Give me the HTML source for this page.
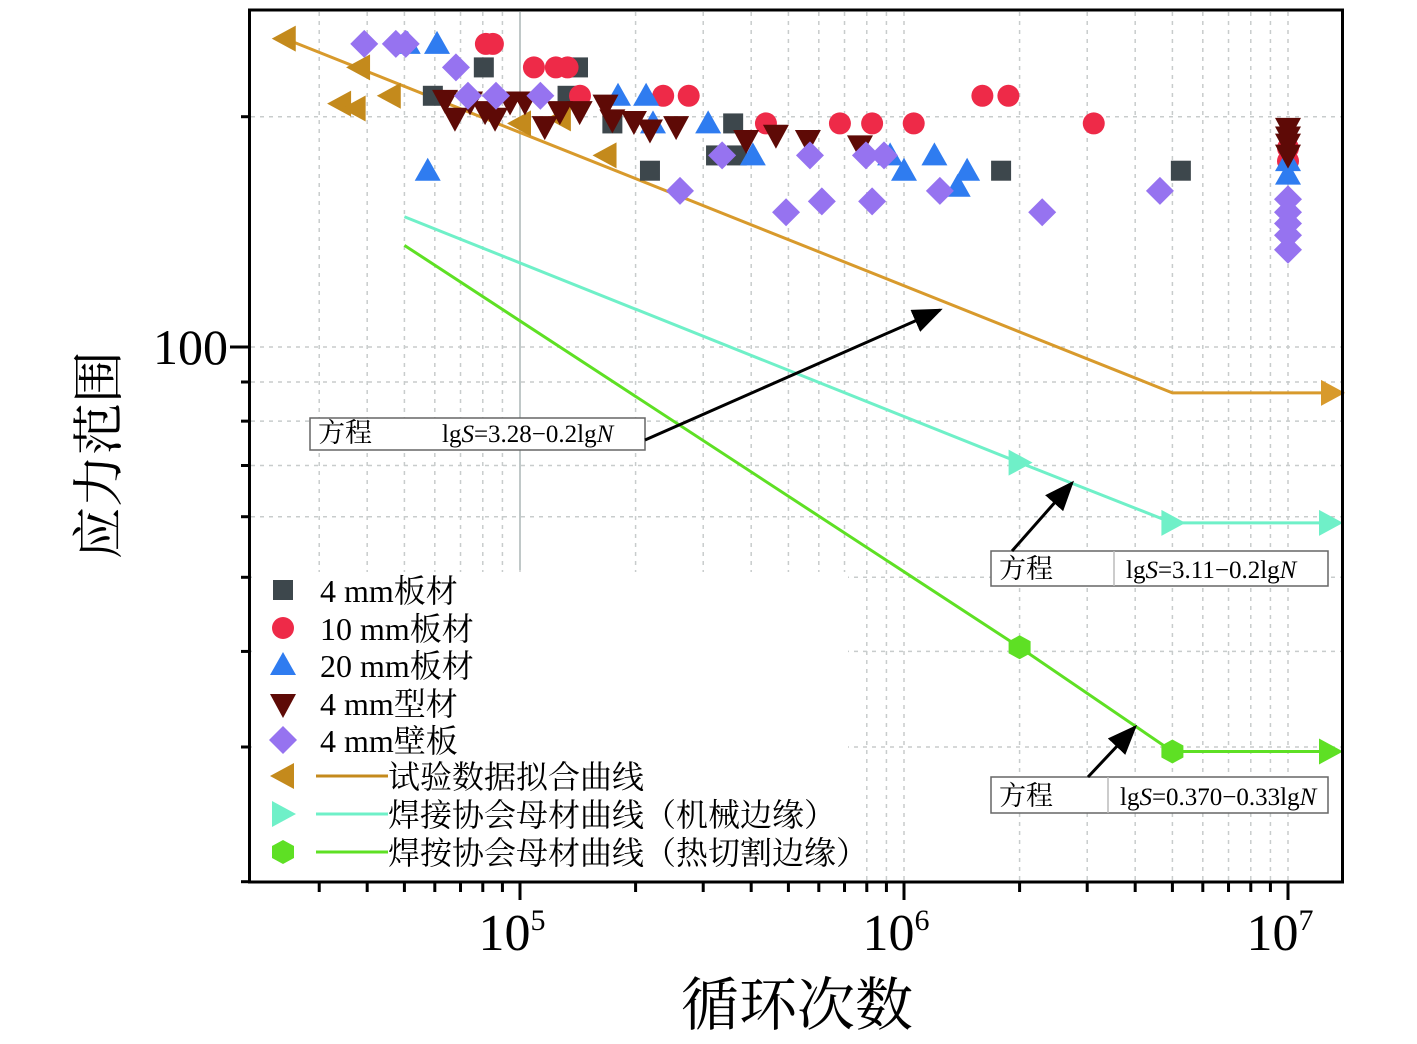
<!DOCTYPE html>
<html><head><meta charset="utf-8"><style>
html,body{margin:0;padding:0;background:#fff;}
svg text{font-family:"Liberation Serif","Noto Serif CJK SC","Noto Sans CJK SC",serif;}
</style></head><body>
<svg id="chart" width="1417" height="1039" xmlns="http://www.w3.org/2000/svg">
<g id="grid"></g>
<g id="lines"></g>
<g id="pts"></g>
<g id="axes"></g>
<g id="ann"></g>
<g id="leg"></g>
</svg>
<script>
const xTicks=[1e5,1e6,1e7];
const yTicks=[20,30,40,50,60,70,80,90,100,200];
const sqN=[80500,59300,133000,141600,174000,359000,324000,367000,218000,1790000,5260000];
const sqS=[232,213,213,232,196,196,178,178,170,170,170];
const ciN=[81500,85000,108700,124000,133000,143300,236000,275000,437000,681000,826000,1060000,1600000,1870000,3120000,1e7,1e7];
const ciS=[249,249,232,232,232,213,213,213,196,196,196,196,213,213,196,175,182];
const trN=[51000,60800,57500,180000,213000,222000,309000,404000,920000,1000000,1200000,1380000,1460000,1e7,1e7];
const trS=[249,249,170,213,213,196,196,178,178,170,178,162,170,175,168];
const dtN=[63800,67700,74100,81100,86100,94200,103000,116000,127000,143000,167000,174000,198000,218000,255000,388000,464000,562000,768000,1e7,1e7,1e7,1e7];
const dtS=[211,200,210,204,200,210,210,195,204,204,208,199,198,193,195,187,190,187,184,194,189,185,179];
const diN=[39300,47500,50400,68100,73200,86600,113000,261000,336000,493000,569000,611000,796000,826000,887000,1240000,2290000,4640000,1e7,1e7,1e7,1e7,1e7];
const diS=[249,249,249,232,213,213,213,160,178,150,178,155,178,155,178,160,150,160,156,150,145,140,134];
const ltN=[24400,38100,34000,37100,45800,100000,127000,167000];
const ltS=[253,232,208,205,213,196,199,178];
const fitN=[24400,5e6,1.4e7];
const fitS=[253,87.1,87.1];
const mechN=[5e4,2e6,5e6,1.35e7];
const mechS=[148,70.6,58.9,58.9];
const heatN=[5e4,2e6,5e6,1.35e7];
const heatS=[135.8,40.5,29.6,29.6];

const X=n=>520+384*(Math.log10(n)-5);
const Y=s=>347-765*(Math.log10(s)-2);
const NS="http://www.w3.org/2000/svg";
function mk(p,t,a){const e=document.createElementNS(NS,t);for(const k in a)e.setAttribute(k,a[k]);p.appendChild(e);return e;}
const G=id=>document.getElementById(id);
const grid=G('grid');
const minors=[];for(let d=4;d<=7;d++)for(let m=1;m<10;m++){const v=m*Math.pow(10,d);if(X(v)>252&&X(v)<1340)minors.push(v);}
minors.forEach(v=>{const l=mk(grid,'line',{x1:X(v),x2:X(v),y1:12,y2:880,stroke:'#c8cccc','stroke-width':1.5,'stroke-dasharray':'4,5'});
});
yTicks.forEach(v=>{const l=mk(grid,'line',{x1:251,x2:1341,y1:Y(v),y2:Y(v),stroke:'#c8cccc','stroke-width':1.5,'stroke-dasharray':'4,5'});
});
mk(grid,'line',{x1:520,x2:520,y1:12,y2:570,stroke:'#c0c8c8','stroke-width':2});
mk(grid,'rect',{x:252,y:572,width:596,height:308,fill:'#fff'});
const lines=G('lines');
function poly(N,S,c,name){const p=mk(lines,'polyline',{points:N.map((n,i)=>X(n)+','+Y(S[i])).join(' '),fill:'none',stroke:c,'stroke-width':3});
}
poly(fitN,fitS,'#d89a2c','fit-curve');
poly(mechN,mechS,'#6ff0c8','mechanical-edge-curve');
poly(heatN,heatS,'#5ee024','thermal-cut-curve');
function marker(p,type,x,y,c){let e;
if(type==='sq')e=mk(p,'rect',{x:x-10,y:y-10,width:20,height:20,fill:c});
else if(type==='ci')e=mk(p,'circle',{cx:x,cy:y,r:11,fill:c});
else if(type==='tr')e=mk(p,'polygon',{points:`${x},${y-13} ${x-13},${y+10} ${x+13},${y+10}`,fill:c});
else if(type==='dt')e=mk(p,'polygon',{points:`${x},${y+15} ${x-13},${y-9} ${x+13},${y-9}`,fill:c});
else if(type==='di')e=mk(p,'polygon',{points:`${x},${y-14} ${x+14},${y} ${x},${y+14} ${x-14},${y}`,fill:c});
else if(type==='lt')e=mk(p,'polygon',{points:`${x-13},${y} ${x+11},${y-13} ${x+11},${y+13}`,fill:c});
else if(type==='rt')e=mk(p,'polygon',{points:`${x+13},${y} ${x-11},${y-13} ${x-11},${y+13}`,fill:c});
else if(type==='hx')e=mk(p,'polygon',{points:`${x},${y-12} ${x+11},${y-6} ${x+11},${y+6} ${x},${y+12} ${x-11},${y+6} ${x-11},${y-6}`,fill:c});
return e;}
const pts=G('pts');
function series(N,S,t,c,name){N.forEach((n,i)=>{const e=marker(pts,t,X(n),Y(S[i]),c);
});}
series(ltN,ltS,'lt','#c48a1c','fit-point');
series(sqN,sqS,'sq','#3d474c','plate-4mm-point');
series(ciN,ciS,'ci','#ee2a48','plate-10mm-point');
series(trN,trS,'tr','#2f7cf0','plate-20mm-point');
series(dtN,dtS,'dt','#5e0a06','profile-4mm-point');
series(diN,diS,'di','#9673f0','panel-4mm-point');
[[2e6,70.6],[5e6,58.9]].forEach(a=>{const e=marker(pts,'rt',X(a[0]),Y(a[1]),'#6ff0c8');});
marker(pts,'rt',1330,Y(58.9),'#6ff0c8');
[[2e6,40.5],[5e6,29.6]].forEach(a=>{const e=marker(pts,'hx',X(a[0]),Y(a[1]),'#5ee024');});
marker(pts,'rt',1330,Y(29.6),'#5ee024');
marker(pts,'rt',1332,Y(87.1),'#d89a2c');
const ax=G('axes');
mk(ax,'rect',{x:249.5,y:10,width:1093,height:872,fill:'none',stroke:'#000','stroke-width':3});
yTicks.forEach(v=>{const big=v===100;mk(ax,'line',{x1:big?230:241,x2:249,y1:Y(v),y2:Y(v),stroke:'#000','stroke-width':3});});
minors.forEach(v=>{const big=xTicks.includes(v);mk(ax,'line',{x1:X(v),x2:X(v),y1:882,y2:big?900:892,stroke:'#000','stroke-width':3});});
let t=mk(ax,'text',{x:228,y:364,'font-size':50,'text-anchor':'end'});t.textContent='100';

xTicks.forEach(v=>{const tx=mk(ax,'text',{x:X(v)-8,y:950,'font-size':52,'text-anchor':'middle'});

tx.textContent='10';const ts=mk(tx,'tspan',{dy:-20,'font-size':30});ts.textContent=String(Math.round(Math.log10(v)));});
t=mk(ax,'text',{x:797,y:1025,'font-size':58,'text-anchor':'middle'});t.textContent='循环次数';

t=mk(ax,'text',{x:0,y:0,'font-size':52,'text-anchor':'middle',transform:'translate(117,455) rotate(-90)'});t.textContent='应力范围';

const ann=G('ann');
mk(ann,'defs',{}).innerHTML='<marker id="ah" markerWidth="10" markerHeight="8" refX="9" refY="4" orient="auto"><polygon points="0,0 10,4 0,8" fill="#000"/></marker>';
function box(x1,y1,x2,y2,div,eq,ax1,ay1,ax2,ay2,name){const g=mk(ann,'g',{});
mk(g,'rect',{x:x1,y:y1,width:x2-x1,height:y2-y1,fill:'#fff',stroke:'#666','stroke-width':1.5});
if(div)mk(g,'line',{x1:div,x2:div,y1:y1,y2:y2,stroke:'#bbb','stroke-width':1.5});
let a=mk(g,'text',{x:x1+8,y:y2-8,'font-size':27});a.textContent='方程';
let b=mk(g,'text',{x:(div||x1+120)+12,y:y2-8,'font-size':25});b.innerHTML=eq;
mk(g,'line',{x1:ax1,y1:ay1,x2:ax2,y2:ay2,stroke:'#000','stroke-width':3,'marker-end':'url(#ah)'});}
box(310,418,645,450,0,'lg<tspan font-style="italic">S</tspan>=3.28−0.2lg<tspan font-style="italic">N</tspan>',645,440,940,310,'fit-equation-box');
box(991,551,1328,586,1114,'lg<tspan font-style="italic">S</tspan>=3.11−0.2lg<tspan font-style="italic">N</tspan>',1012,551,1072,483,'mech-equation-box');
box(991,777,1328,813,1108,'lg<tspan font-style="italic">S</tspan>=0.370−0.33lg<tspan font-style="italic">N</tspan>',1088,777,1135,727,'heat-equation-box');
const leg=G('leg');
const legT=['sq','ci','tr','dt','di','lt','rt','hx'];
const legC=['#3d474c','#ee2a48','#2f7cf0','#5e0a06','#9673f0','#c48a1c','#6ff0c8','#5ee024'];
const legL=['4 mm板材','10 mm板材','20 mm板材','4 mm型材','4 mm壁板','试验数据拟合曲线','焊接协会母材曲线（机械边缘）','焊按协会母材曲线（热切割边缘）'];
const legY=[590,628,665,703,740,776,814,852];
legL.forEach((s,i)=>{const g=mk(leg,'g',{});
marker(g,legT[i],283,legY[i],legC[i]);
if(i>=5)mk(g,'line',{x1:316,x2:388,y1:legY[i],y2:legY[i],stroke:legC[i],'stroke-width':3});
const tx=mk(g,'text',{x:i>=5?388:320,y:legY[i]+12,'font-size':32});tx.textContent=s;});
</script>
</body></html>
